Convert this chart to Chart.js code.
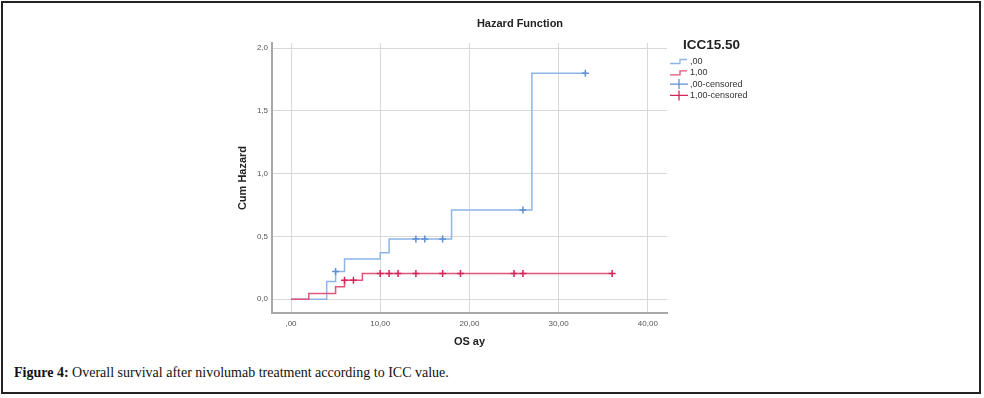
<!DOCTYPE html>
<html>
<head>
<meta charset="utf-8">
<script src="https://cdn.jsdelivr.net/npm/chart.js@4.4.1/dist/chart.umd.min.js"></script>
<style>
  html, body { margin: 0; padding: 0; background: #fff; }
  #page { position: relative; width: 984px; height: 398px; overflow: hidden; }
  #frame { position: absolute; left: 1px; top: 1px; width: 980px; height: 393px; box-sizing: border-box; border: 2px solid #222; }
  #chartBox { position: absolute; left: 200px; top: 0; width: 640px; height: 356px; }
  #caption { position: absolute; left: 14px; top: 365px; font: 14px "Liberation Serif", "DejaVu Serif", serif; color: #111; white-space: nowrap; }
  #caption b { font-weight: bold; }
</style>
</head>
<body>
<div id="page">
  <div id="frame"></div>
  <div id="chartBox"><canvas id="myChart" width="640" height="356"></canvas></div>
  <div id="caption"><b>Figure 4:</b> Overall survival after nivolumab treatment according to ICC value.</div>
</div>
<script>
// step data (OS in months, cumulative hazard)
const group0Times = [0, 4, 5, 6, 10, 11, 18, 27, 33];
const group0Hazard = [0, 0.14, 0.22, 0.32, 0.37, 0.48, 0.71, 1.80, 1.80];
const group1Times = [0, 2, 5, 6, 8, 36];
const group1Hazard = [0, 0.045, 0.10, 0.15, 0.205, 0.205];

// censored marks
const group0CensTimes = [5, 14, 15, 17, 26, 33];
const group0CensHazard = [0.22, 0.48, 0.48, 0.48, 0.71, 1.80];
const group1CensTimes = [6, 7, 10, 11, 12, 14, 17, 19, 25, 26, 36];
const group1CensHazard = [0.15, 0.15, 0.205, 0.205, 0.205, 0.205, 0.205, 0.205, 0.205, 0.205, 0.205];

// ticks
const xTicks = [0, 10, 20, 30, 40];
const xTickLabels = [',00', '10,00', '20,00', '30,00', '40,00'];
const yTicks = [0, 0.5, 1.0, 1.5, 2.0];
const yTickLabels = ['0,0', '0,5', '1,0', '1,5', '2,0'];

const legendTitle = 'ICC15.50';
const legendLabels = [',00', '1,00', ',00-censored', '1,00-censored'];

const blueLine = '#8db5e6';
const redLine = '#e2557a';
const blueMark = '#5b8fd2';
const redMark = '#d6245a';

const toPoints = (xs, ys) => xs.map((x, i) => ({ x: x, y: ys[i] }));

const data = {
  datasets: [
    { label: legendLabels[0], data: toPoints(group0Times, group0Hazard), showLine: true, stepped: 'before',
      borderColor: blueLine, borderWidth: 1.5, pointRadius: 0, order: 3 },
    { label: legendLabels[1], data: toPoints(group1Times, group1Hazard), showLine: true, stepped: 'before',
      borderColor: redLine, borderWidth: 1.5, pointRadius: 0, order: 2 },
    { label: legendLabels[2], data: toPoints(group0CensTimes, group0CensHazard), showLine: false,
      pointStyle: 'cross', pointRadius: 3.5, pointBorderWidth: 1.5, borderColor: blueMark, backgroundColor: blueMark, order: 1 },
    { label: legendLabels[3], data: toPoints(group1CensTimes, group1CensHazard), showLine: false,
      pointStyle: 'cross', pointRadius: 3.5, pointBorderWidth: 1.5, borderColor: redMark, backgroundColor: redMark, order: 0 }
  ]
};

// title + legend drawn by hand (page x minus 200 = canvas x)
const decorations = {
  id: 'decorations',
  afterDraw(chart) {
    const { ctx } = chart;
    ctx.save();
    ctx.fillStyle = '#222';
    ctx.textBaseline = 'middle';
    ctx.textAlign = 'center';
    ctx.font = 'bold 11px "Liberation Sans", Arial, sans-serif';
    ctx.fillText('Hazard Function', 320, 24);

    ctx.textAlign = 'left';
    ctx.font = 'bold 13.5px "Liberation Sans", Arial, sans-serif';
    ctx.fillText(legendTitle, 483, 45);

    ctx.font = '9px "Liberation Sans", Arial, sans-serif';
    const colors = [blueLine, redLine, blueMark, redMark];
    legendLabels.forEach((lab, i) => {
      const y = 61.5 + i * 11.3;
      ctx.strokeStyle = colors[i];
      ctx.lineWidth = 1.3;
      ctx.beginPath();
      if (i < 2) {
        ctx.moveTo(470, y + 2); ctx.lineTo(480, y + 2); ctx.lineTo(480, y - 2); ctx.lineTo(487, y - 2);
      } else {
        ctx.moveTo(470, y); ctx.lineTo(488, y);
        ctx.moveTo(479, y - 5); ctx.lineTo(479, y + 5);
      }
      ctx.stroke();
      ctx.fillStyle = '#333';
      ctx.fillText(lab, 490, y);
    });
    ctx.restore();
  }
};

const config = {
  type: 'scatter',
  data,
  options: {
    responsive: false,
    animation: false,
    layout: { padding: { left: 0, top: 43, right: 173, bottom: 0 } },
    plugins: { legend: { display: false }, title: { display: false }, tooltip: { enabled: false } },
    scales: {
      x: {
        type: 'linear', min: -2.13, max: 42.15,
        afterBuildTicks: s => { s.ticks = xTicks.map(v => ({ value: v })); },
        afterFit: s => { s.height = 43; },
        grid: { color: '#d9d9d9', lineWidth: 1, drawTicks: false },
        border: { color: '#a8a8a8', width: 2 },
        ticks: { padding: 6, color: '#555', font: { size: 8, family: '"Liberation Sans", Arial' },
                 callback: (v) => xTickLabels[xTicks.indexOf(v)] },
        title: { display: true, text: 'OS ay', color: '#222', padding: { top: 0, bottom: 7 },
                 font: { size: 11, weight: 'bold', family: '"Liberation Sans", Arial' } }
      },
      y: {
        type: 'linear', min: -0.11, max: 2.04,
        afterBuildTicks: s => { s.ticks = yTicks.map(v => ({ value: v })); },
        afterFit: s => { s.width = 72; },
        grid: { color: '#d9d9d9', lineWidth: 1, drawTicks: false },
        border: { color: '#a8a8a8', width: 2 },
        ticks: { padding: 4, color: '#555', font: { size: 8, family: '"Liberation Sans", Arial' },
                 callback: (v) => yTickLabels[yTicks.indexOf(v)] },
        title: { display: true, text: 'Cum Hazard', color: '#222', padding: { top: 36, bottom: 0 },
                 font: { size: 11, weight: 'bold', family: '"Liberation Sans", Arial' } }
      }
    }
  },
  plugins: [decorations]
};

const myChart = new Chart(document.getElementById('myChart'), config);
</script>
</body>
</html>
